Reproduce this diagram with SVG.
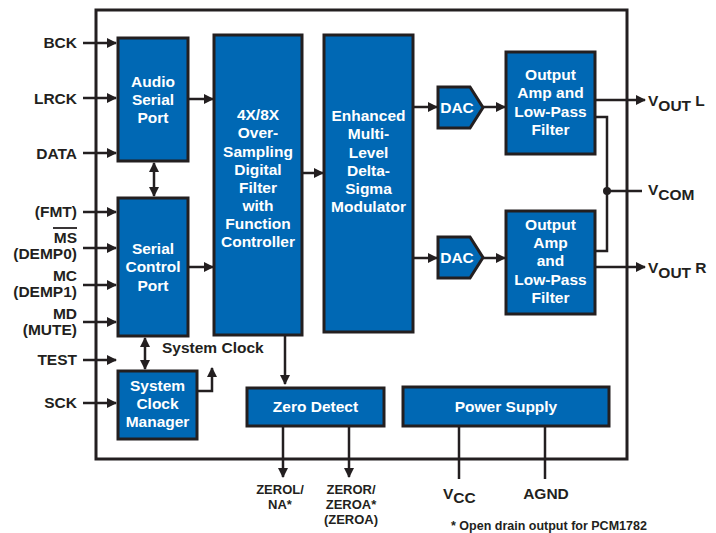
<svg xmlns="http://www.w3.org/2000/svg" width="716" height="533" viewBox="0 0 716 533">
<style>
.box{fill:#0068b4;stroke:#231f20;stroke-width:3}
.frame{fill:none;stroke:#231f20;stroke-width:3}
.wire{fill:none;stroke:#231f20;stroke-width:2.5}
.bt{font-family:"Liberation Sans",Arial,sans-serif;font-weight:bold;font-size:15.5px;fill:#ffffff;text-anchor:middle}
.lb{font-family:"Liberation Sans",Arial,sans-serif;font-weight:bold;font-size:15.5px;fill:#231f20}
.sm{font-size:13px}
.r{text-anchor:end}
.m{text-anchor:middle}
</style>
<defs>
<marker id="ah" viewBox="0 0 10 10" refX="9" refY="5" markerWidth="10" markerHeight="10" markerUnits="userSpaceOnUse" orient="auto-start-reverse">
<path d="M0,0 L10,5 L0,10 z" fill="#231f20"/>
</marker>
</defs>
<rect width="716" height="533" fill="#ffffff"/>
<rect class="frame" x="96" y="10" width="531" height="449"/>

<g id="connectors">
<line class="wire" x1="83" y1="43" x2="116" y2="43" marker-end="url(#ah)"/>
<line class="wire" x1="83" y1="98" x2="116" y2="98" marker-end="url(#ah)"/>
<line class="wire" x1="83" y1="153" x2="116" y2="153" marker-end="url(#ah)"/>
<line class="wire" x1="83" y1="212" x2="116" y2="212" marker-end="url(#ah)"/>
<line class="wire" x1="83" y1="248" x2="116" y2="248" marker-end="url(#ah)"/>
<line class="wire" x1="83" y1="285" x2="116" y2="285" marker-end="url(#ah)"/>
<line class="wire" x1="83" y1="322" x2="116" y2="322" marker-end="url(#ah)"/>
<line class="wire" x1="83" y1="360" x2="116" y2="360" marker-end="url(#ah)"/>
<line class="wire" x1="83" y1="403" x2="116" y2="403" marker-end="url(#ah)"/>
<line class="wire" x1="154" y1="163" x2="154" y2="196" marker-start="url(#ah)" marker-end="url(#ah)"/>
<line class="wire" x1="145" y1="338" x2="145" y2="369" marker-start="url(#ah)" marker-end="url(#ah)"/>
<polyline class="wire" points="197,391 212,391 212,368" marker-end="url(#ah)"/>
<line class="wire" x1="188" y1="99" x2="213" y2="99" marker-end="url(#ah)"/>
<line class="wire" x1="188" y1="267" x2="213" y2="267" marker-end="url(#ah)"/>
<line class="wire" x1="302" y1="173" x2="323" y2="173" marker-end="url(#ah)"/>
<line class="wire" x1="413" y1="107" x2="437" y2="107" marker-end="url(#ah)"/>
<line class="wire" x1="413" y1="258" x2="437" y2="258" marker-end="url(#ah)"/>
<line class="wire" x1="483" y1="107" x2="505" y2="107" marker-end="url(#ah)"/>
<line class="wire" x1="483" y1="258" x2="505" y2="258" marker-end="url(#ah)"/>
<line class="wire" x1="595" y1="100" x2="645" y2="100" marker-end="url(#ah)"/>
<line class="wire" x1="595" y1="267" x2="645" y2="267" marker-end="url(#ah)"/>
<polyline class="wire" points="595,117 607,117 607,251 595,251"/>
<line class="wire" x1="607" y1="191" x2="642" y2="191"/>
<circle cx="607" cy="191" r="4" fill="#231f20"/>
<line class="wire" x1="285" y1="335" x2="285" y2="384" marker-end="url(#ah)"/>
<line class="wire" x1="283" y1="426" x2="283" y2="477" marker-end="url(#ah)"/>
<line class="wire" x1="349" y1="426" x2="349" y2="477" marker-end="url(#ah)"/>
<line class="wire" x1="459" y1="426" x2="459" y2="479"/>
<line class="wire" x1="545" y1="426" x2="545" y2="479"/>
</g>

<g id="audio-serial-port">
<rect class="box" x="118" y="38" width="70" height="123"/>
<text class="bt" x="153" y="87">Audio</text>
<text class="bt" x="153" y="105">Serial</text>
<text class="bt" x="153" y="123">Port</text>
</g>
<g id="serial-control-port">
<rect class="box" x="118" y="198" width="70" height="138"/>
<text class="bt" x="153" y="254">Serial</text>
<text class="bt" x="153" y="272">Control</text>
<text class="bt" x="153" y="291">Port</text>
</g>
<g id="system-clock-manager">
<rect class="box" x="118" y="371" width="79" height="68"/>
<text class="bt" x="157.5" y="391">System</text>
<text class="bt" x="157.5" y="409">Clock</text>
<text class="bt" x="157.5" y="427">Manager</text>
</g>
<g id="digital-filter">
<rect class="box" x="214" y="35" width="88" height="300"/>
<text class="bt" x="258" y="120">4X/8X</text>
<text class="bt" x="258" y="138">Over-</text>
<text class="bt" x="258" y="156.5">Sampling</text>
<text class="bt" x="258" y="174.5">Digital</text>
<text class="bt" x="258" y="192.5">Filter</text>
<text class="bt" x="258" y="211">with</text>
<text class="bt" x="258" y="229">Function</text>
<text class="bt" x="258" y="247">Controller</text>
</g>
<g id="delta-sigma-modulator">
<rect class="box" x="324" y="35" width="89" height="297"/>
<text class="bt" x="368.5" y="121">Enhanced</text>
<text class="bt" x="368.5" y="139">Multi-</text>
<text class="bt" x="368.5" y="157.5">Level</text>
<text class="bt" x="368.5" y="176">Delta-</text>
<text class="bt" x="368.5" y="194">Sigma</text>
<text class="bt" x="368.5" y="212">Modulator</text>
</g>
<g id="dac-l">
<path class="box" d="M438,87 L470,87 L483,107.5 L470,128 L438,128 z"/>
<text class="bt" x="457" y="113">DAC</text>
</g>
<g id="dac-r">
<path class="box" d="M438,237 L470,237 L483,257.5 L470,278 L438,278 z"/>
<text class="bt" x="457" y="263">DAC</text>
</g>
<g id="output-amp-l">
<rect class="box" x="506" y="52" width="89" height="102"/>
<text class="bt" x="550.5" y="80">Output</text>
<text class="bt" x="550.5" y="98">Amp and</text>
<text class="bt" x="550.5" y="117">Low-Pass</text>
<text class="bt" x="550.5" y="135">Filter</text>
</g>
<g id="output-amp-r">
<rect class="box" x="506" y="211" width="89" height="103"/>
<text class="bt" x="550.5" y="230">Output</text>
<text class="bt" x="550.5" y="248">Amp</text>
<text class="bt" x="550.5" y="266">and</text>
<text class="bt" x="550.5" y="285">Low-Pass</text>
<text class="bt" x="550.5" y="303">Filter</text>
</g>
<g id="zero-detect">
<rect class="box" x="247" y="388" width="137" height="38"/>
<text class="bt" x="315.5" y="412">Zero Detect</text>
</g>
<g id="power-supply">
<rect class="box" x="403" y="387" width="206" height="39"/>
<text class="bt" x="506" y="412">Power Supply</text>
</g>

<g id="labels">
<text class="lb r" x="77" y="48">BCK</text>
<text class="lb r" x="77" y="104">LRCK</text>
<text class="lb r" x="77" y="159">DATA</text>
<text class="lb r" x="77" y="217">(FMT)</text>
<text class="lb r" x="77" y="243">MS</text>
<line x1="53" y1="228" x2="77" y2="228" stroke="#231f20" stroke-width="1.8"/>
<text class="lb r" x="77" y="259">(DEMP0)</text>
<text class="lb r" x="77" y="281">MC</text>
<text class="lb r" x="77" y="297">(DEMP1)</text>
<text class="lb r" x="77" y="319">MD</text>
<text class="lb r" x="77" y="335">(MUTE)</text>
<text class="lb r" x="77" y="365">TEST</text>
<text class="lb r" x="77" y="408">SCK</text>
<text class="lb" x="162" y="353">System Clock</text>
<text class="lb" x="648" y="106">V<tspan dy="5">OUT</tspan><tspan dy="-5"> L</tspan></text>
<text class="lb" x="648" y="195">V<tspan dy="5">COM</tspan></text>
<text class="lb" x="648" y="273">V<tspan dy="5">OUT</tspan><tspan dy="-5"> R</tspan></text>
<text class="lb m sm" x="280" y="494">ZEROL/<tspan x="280" dy="15">NA*</tspan></text>
<text class="lb m sm" x="351" y="494">ZEROR/<tspan x="351" dy="15">ZEROA*</tspan><tspan x="351" dy="15">(ZEROA)</tspan></text>
<text class="lb" x="443" y="499">V<tspan dy="4">CC</tspan></text>
<text class="lb m" x="546" y="499">AGND</text>
<text class="lb" x="451" y="530" style="font-size:12.5px">* Open drain output for PCM1782</text>
</g>
</svg>
